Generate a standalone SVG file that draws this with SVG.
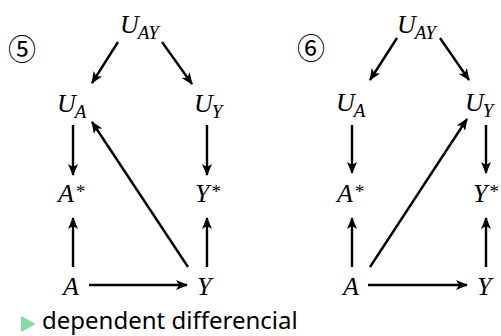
<svg xmlns="http://www.w3.org/2000/svg" width="501" height="336" viewBox="0 0 501 336">
<style>
.m{font-family:"Liberation Serif","DejaVu Serif",serif;font-style:italic;font-size:26px;fill:#000}
.s{font-size:19px}
.c{font-family:"Noto Sans CJK JP","Noto Sans",sans-serif;font-size:28px;fill:#000;text-anchor:middle}
.t{font-family:"Noto Sans","Open Sans",sans-serif;font-size:24px;fill:#000}
.e{stroke:#000;stroke-width:2.4;fill:none;marker-end:url(#ah)}
</style>
<defs>
<marker id="ah" viewBox="0 0 12 10" refX="11" refY="5" markerWidth="12" markerHeight="10" markerUnits="userSpaceOnUse" orient="auto">
<path d="M0,0 L12,5 L0,10 L3,5 z" fill="#000"/>
</marker>
</defs>
<text class="c" x="22" y="60">⑤</text>
<text class="c" x="311" y="59">⑥</text>
<g id="L_UAY"><text class="m" x="120" y="33">U<tspan class="s" dx="-1" dy="6">AY</tspan></text></g>
<g id="L_UA"><text class="m" x="57" y="112">U<tspan class="s" dx="-1" dy="6">A</tspan></text></g>
<g id="L_UY"><text class="m" x="194" y="112">U<tspan class="s" dx="-1" dy="6">Y</tspan></text></g>
<g id="L_As"><text class="m" x="58" y="202">A<tspan class="s" dx="1" dy="-4">*</tspan></text></g>
<g id="L_Ys"><text class="m" x="195" y="202">Y<tspan class="s" dx="1" dy="-4">*</tspan></text></g>
<g id="L_A"><text class="m" x="63" y="295">A</text></g>
<g id="L_Y"><text class="m" x="197" y="295">Y</text></g>
<g id="R_UAY"><text class="m" x="397" y="33">U<tspan class="s" dx="-1" dy="6">AY</tspan></text></g>
<g id="R_UA"><text class="m" x="336" y="111">U<tspan class="s" dx="-1" dy="6">A</tspan></text></g>
<g id="R_UY"><text class="m" x="465" y="111">U<tspan class="s" dx="-1" dy="6">Y</tspan></text></g>
<g id="R_As"><text class="m" x="337" y="202">A<tspan class="s" dx="1" dy="-4">*</tspan></text></g>
<g id="R_Ys"><text class="m" x="473" y="202">Y<tspan class="s" dx="1" dy="-4">*</tspan></text></g>
<g id="R_A"><text class="m" x="343" y="295">A</text></g>
<g id="R_Y"><text class="m" x="477" y="295">Y</text></g>
<g id="connectors">
<line class="e" x1="118" y1="42" x2="92" y2="83"/>
<line class="e" x1="162" y1="42" x2="192" y2="84"/>
<line class="e" x1="73" y1="125" x2="73" y2="175"/>
<line class="e" x1="207" y1="125" x2="207" y2="175"/>
<line class="e" x1="73" y1="267" x2="73" y2="218"/>
<line class="e" x1="207" y1="267" x2="207" y2="218"/>
<line class="e" x1="89" y1="285" x2="187" y2="285"/>
<line class="e" x1="188" y1="267" x2="92" y2="122"/>
<line class="e" x1="397" y1="38" x2="370" y2="80"/>
<line class="e" x1="440" y1="38" x2="469" y2="80"/>
<line class="e" x1="352" y1="125" x2="352" y2="173"/>
<line class="e" x1="486" y1="125" x2="486" y2="173"/>
<line class="e" x1="352" y1="267" x2="352" y2="218"/>
<line class="e" x1="486" y1="267" x2="486" y2="218"/>
<line class="e" x1="368" y1="285" x2="467" y2="285"/>
<line class="e" x1="370" y1="267" x2="467" y2="119"/>
</g>
<polygon points="21,316 21,332 36,324" fill="#86dca8"/>
<text class="t" x="42" y="329">dependent differencial</text>
</svg>
